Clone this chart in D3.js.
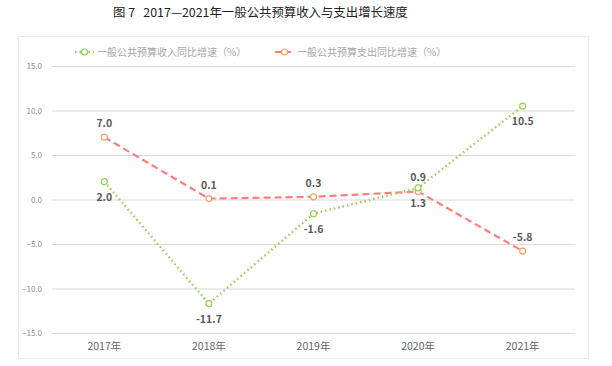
<!DOCTYPE html>
<html><head><meta charset="utf-8">
<script src="https://cdn.jsdelivr.net/npm/d3@7"></script>
<style>body{margin:0;background:#fff}svg{display:block}</style>
</head><body><svg id="c" width="612" height="366"></svg>
<script>
const categories = ["2017年","2018年","2019年","2020年","2021年"];
const incomeGrowth = [2.0, -11.7, -1.6, 1.3, 10.5];
const expenditureGrowth = [7.0, 0.1, 0.3, 0.9, -5.8];
const yTicks = [-15, -10, -5, 0, 5, 10, 15];
const seriesNames = ["一般公共预算收入同比增速（%）", "一般公共预算支出同比增速（%）"];
const titleText = "图 7   2017—2021年一般公共预算收入与支出增长速度";

const svg = d3.select("#c");
const font = "'Microsoft YaHei','Noto Sans CJK SC','Noto Sans',sans-serif";

svg.append("text").attr("x", 113).attr("y", 17).attr("font-family", font)
  .attr("font-size", 12.4).attr("fill", "#222").style("white-space", "pre").text(titleText);

svg.append("rect").attr("x", 18.5).attr("y", 36.5).attr("width", 570).attr("height", 322)
  .attr("fill", "#fff").attr("stroke", "#e6eaee");

const x = d3.scaleBand().domain(categories).range([52, 575]);
const y = d3.scaleLinear().domain([-15, 15]).range([333, 66]);

const g = svg.append("g");
g.selectAll(".grid").data(yTicks).join("line")
  .attr("x1", 52).attr("x2", 575).attr("y1", d => y(d) + 0.5).attr("y2", d => y(d) + 0.5)
  .attr("stroke", "#d9d9d9").attr("stroke-width", 1);

const yAxis = d3.axisLeft(y).tickValues(yTicks).tickFormat(d3.format(".1f")).tickSize(0).tickPadding(6);
const ya = svg.append("g").attr("transform", "translate(48,0)").call(yAxis);
ya.select(".domain").remove();
ya.selectAll("text").attr("font-family", font).attr("font-size", 8).attr("fill", "#8c8c8c");

const xAxis = d3.axisBottom(x).tickSize(0).tickPadding(10);
const xa = svg.append("g").attr("transform", "translate(0,333)").call(xAxis);
xa.select(".domain").remove();
xa.selectAll("text").attr("font-family", font).attr("font-size", 10.5).attr("fill", "#666");

const cx = c => x(c) + x.bandwidth() / 2;
const line = d3.line().x((d, i) => cx(categories[i])).y(d => y(d));

// expenditure
svg.append("path").datum(expenditureGrowth).attr("d", line).attr("fill", "none")
  .attr("stroke", "#ff7c80").attr("stroke-width", 2.2).attr("stroke-dasharray", "7,4");
// income
svg.append("path").datum(incomeGrowth).attr("d", line).attr("fill", "none")
  .attr("stroke", "#92d050").attr("stroke-width", 2.4).attr("stroke-dasharray", "1.5,3").attr("stroke-linecap", "butt");

svg.selectAll(".pe").data(expenditureGrowth).join("circle")
  .attr("cx", (d, i) => cx(categories[i])).attr("cy", d => y(d)).attr("r", 3)
  .attr("fill", "#fff").attr("stroke", "#f4a261").attr("stroke-width", 1.2);
svg.selectAll(".pi").data(incomeGrowth).join("circle")
  .attr("cx", (d, i) => cx(categories[i])).attr("cy", d => y(d)).attr("r", 3)
  .attr("fill", "#fff").attr("stroke", "#92d050").attr("stroke-width", 1.2);

svg.selectAll(".le").data(expenditureGrowth).join("text")
  .attr("x", (d, i) => cx(categories[i])).attr("y", d => y(d) - 10)
  .attr("text-anchor", "middle").attr("font-family", font).attr("font-size", 10.5)
  .attr("font-weight", "bold").attr("fill", "#595959").text(d => d.toFixed(1));
svg.selectAll(".li").data(incomeGrowth).join("text")
  .attr("x", (d, i) => cx(categories[i])).attr("y", d => y(d) + 19)
  .attr("text-anchor", "middle").attr("font-family", font).attr("font-size", 10.5)
  .attr("font-weight", "bold").attr("fill", "#595959").text(d => d.toFixed(1));

// legend
const leg = [
  {x: 75, name: seriesNames[0], color: "#92d050", marker: "#92d050", dash: "1.5,3", w: 2.4},
  {x: 275, name: seriesNames[1], color: "#ff7c80", marker: "#f4a261", dash: "6,4", w: 2.2}
];
leg.forEach(l => {
  svg.append("line").attr("x1", l.x).attr("x2", l.x + 19).attr("y1", 52).attr("y2", 52)
    .attr("stroke", l.color).attr("stroke-width", l.w).attr("stroke-dasharray", l.dash);
  svg.append("circle").attr("cx", l.x + 9.5).attr("cy", 52).attr("r", 3)
    .attr("fill", "#fff").attr("stroke", l.marker).attr("stroke-width", 1.2);
  svg.append("text").attr("x", l.x + 22).attr("y", 55.5).attr("font-family", font)
    .attr("font-size", 10).attr("fill", "#a6a6a6").text(l.name);
});
</script></body></html>
